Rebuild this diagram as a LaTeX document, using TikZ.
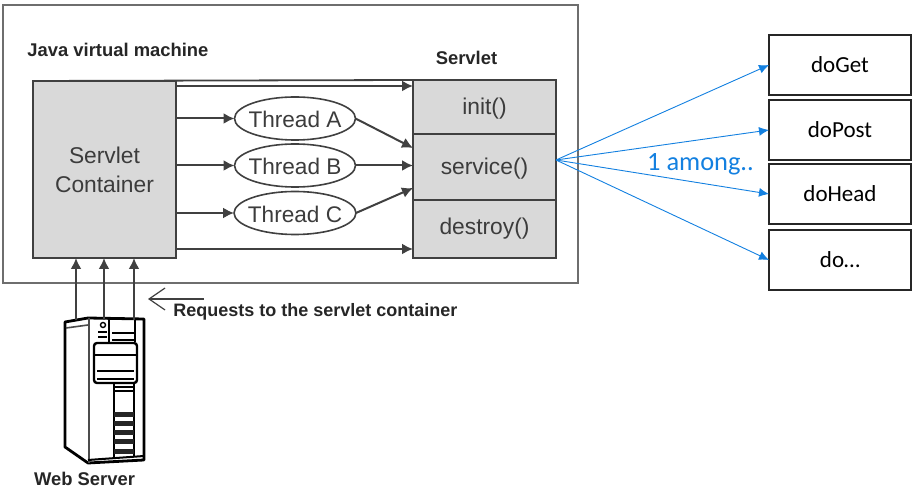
\documentclass[tikz,border=0pt]{standalone}
\usepackage{fontspec}
\setmainfont{Liberation Sans}
\newfontfamily\calibri{Carlito}
\usetikzlibrary{shapes.geometric, arrows.meta, positioning}
\definecolor{frameline}{HTML}{6e6e6e}
\definecolor{boxline}{HTML}{404040}
\definecolor{boxfill}{HTML}{d9d9d9}
\definecolor{softtext}{HTML}{3c3c3c}
\definecolor{coolblue}{HTML}{1380e0}
\tikzset{
	partbox/.style={draw=boxline, fill=boxfill, line width=0.9pt, inner sep=0pt, outer sep=0pt, minimum width=71.5pt, text=softtext, font=\fontsize{11.4}{14.5}\selectfont, align=center},
	threadnode/.style={draw=boxline, fill=white, ellipse, line width=0.8pt, inner xsep=-2pt, inner ysep=0pt, outer sep=0pt, minimum width=60.5pt, minimum height=21.5pt, text=softtext, text height=9.5pt, text depth=0pt, font=\fontsize{11.3}{13}\selectfont},
	methodbox/.style={draw=black!85, line width=0.6pt, inner sep=0pt, outer sep=0pt, minimum width=71pt, minimum height=30pt, text height=8pt, text depth=0pt, font=\calibri\fontsize{11.5}{13}\selectfont},
	boldlabel/.style={font=\bfseries\fontsize{9.2}{11}\selectfont, text=black!85, inner sep=0pt},
	flow/.style={-{Latex[length=5.5pt,width=5.5pt]}, draw=black!75, line width=1pt},
	pick/.style={-{Latex[length=5pt,width=4.5pt]}, draw=coolblue, line width=0.45pt}
}
\begin{document}
\begin{tikzpicture}[x=0.5pt, y=-0.5pt]
	\useasboundingbox (0,0) rectangle (916,496);
	% jvm frame
	\node[draw=frameline, line width=0.7pt, inner sep=0pt, outer sep=0pt, minimum width=287.5pt, minimum height=139pt] (jvm) at (290.5,144) {};
	\node[boldlabel, anchor=west] (jvmlabel) at (27,50) {Java virtual machine};
	\node[boldlabel] (servletlabel) at (466.5,58) {Servlet};
	% container and servlet
	\node[partbox, minimum height=88.5pt] (container) at (104.5,169.5) {Servlet\\Container};
	\node[partbox, minimum height=27pt, text depth=1pt] (init) at (484.5,107) {init()};
	\node[partbox, minimum height=33pt, text depth=1pt] (service) at (484.5,167) {service()};
	\node[partbox, minimum height=29pt] (destroy) at (484.5,229) {destroy()};
	% threads
	\foreach \y/\lbl/\nm in {118.5/Thread A/threada, 165.5/Thread B/threadb, 213/Thread C/threadc} {
		\node[threadnode] (\nm) at (295,\y) {\lbl};
		\draw[flow] (container.east |- \nm.west) -- (\nm.west);
	}
	\draw[flow] (threada.east) -- (service.west |- 0,148);
	\draw[flow] (threadb.east) -- (service.west |- threadb);
	\draw[flow] (threadc.east) -- (service.west |- 0,188);
	\draw[boxline, line width=0.9pt] (container.north west) -- (init.north west);
	\draw[flow] (container.east |- 0,86) -- (init.west |- 0,86);
	\draw[flow] (container.east |- 0,249) -- (destroy.west |- 0,249);
	% web server
	\draw[black, fill=white, line width=1.4pt, line join=round] (65,322) -- (88,318) -- (144,319) -- (144,460) -- (88,463) -- (65,447) -- cycle;
	\draw[black!70, line width=0.8pt] (89,318) -- (89,463) (66,328) -- (88,325);
	\draw[black, line width=1pt] (109,319) -- (109,342) (135,319) -- (135,342) (112,333) -- (135,333) (112,340) -- (135,340);
	\draw[black, line width=0.7pt] (103,325) circle (2.5);
	\draw[black, line width=1pt] (98,332) -- (107,332) (98,337) -- (107,337);
	\draw[black, fill=white, line width=1.2pt, rounded corners=1.5pt] (94,343) rectangle (137,383);
	\draw[black, line width=1pt] (94,355) -- (137,355) (97,371) -- (134,371) (97,379) -- (134,379);
	\draw[black, line width=0.8pt] (114,383) -- (114,458) (134,383) -- (134,457) (114,387) -- (134,387) (114,391) -- (134,391);
	\foreach \y in {412,421,430,439,449} {
		\fill[black!85] (114,\y) rectangle (134,\y+5);
	}
	\draw[black, line width=1pt] (88,460) -- (144,456);
	\node[boldlabel] (serverlabel) at (84.5,479) {Web Server};
	% requests
	\foreach \x/\nm in {76/srva, 104/srvb, 134/srvc} {
		\coordinate (\nm) at (\x,320);
		\draw[flow] (\nm) -- (\nm |- container.south);
	}
	\coordinate (reqstart) at (204,299);
	\coordinate (reqtip) at (148,299);
	\draw[-{Straight Barb[length=8pt,width=11pt]}, black!75, line width=0.6pt] (reqstart) -- (reqtip);
	\node[boldlabel, anchor=west, font=\bfseries\fontsize{9}{11}\selectfont] (reqlabel) at (173,312) {Requests to the servlet container};
	% method boxes
	\foreach \y/\lbl/\nm in {65/doGet/doget, 130/doPost/dopost, 194/doHead/dohead, 260/do…/doother} {
		\node[methodbox] (\nm) at (840,\y) {\lbl};
	}
	\coordinate (hub) at (service.east |- 0,160);
	\foreach \nm in {doget, dopost, dohead, doother} {
		\draw[pick] (hub) -- (\nm.west);
	}
	\node[text=coolblue, font=\calibri\fontsize{13.2}{15}\selectfont, inner sep=0pt] (among) at (700.5,164) {1 among..};
\end{tikzpicture}
\end{document}
